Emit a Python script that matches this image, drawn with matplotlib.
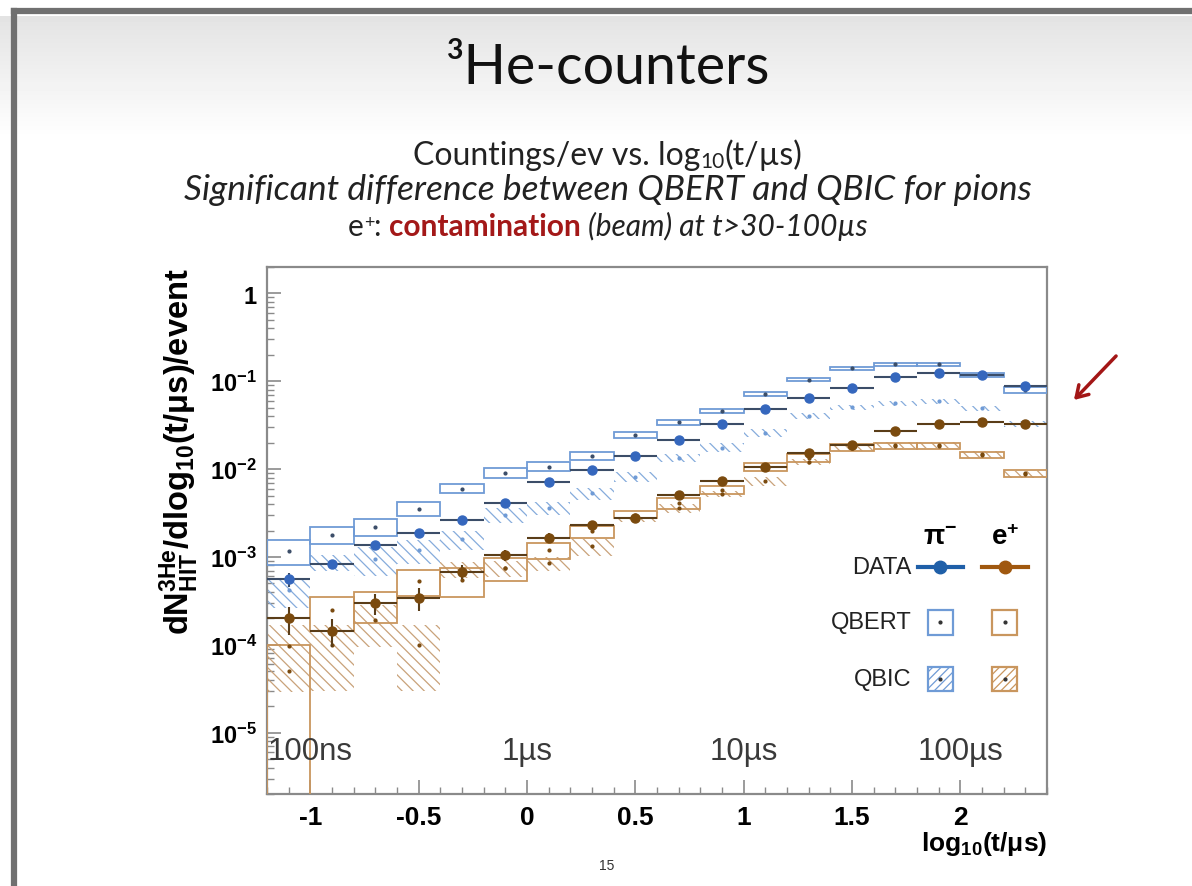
import numpy as np
import matplotlib
matplotlib.use("Agg")
import matplotlib.pyplot as plt
from matplotlib.patches import Rectangle, FancyArrowPatch
from matplotlib.lines import Line2D
from matplotlib.transforms import IdentityTransform
from matplotlib.ticker import FixedLocator, MultipleLocator, LogLocator, NullFormatter

# bins in log10(t/us), width 0.2
bin_centers = [-1.1, -0.9, -0.7, -0.5, -0.3, -0.1, 0.1, 0.3, 0.5,
               0.7, 0.9, 1.1, 1.3, 1.5, 1.7, 1.9, 2.1, 2.3]
bin_width = 0.2

# DATA
data_pi = [5.6e-4, 8.3e-4, 1.37e-3, 1.87e-3, 2.6e-3, 4.1e-3, 7.2e-3, 9.7e-3, 1.4e-2,
           2.14e-2, 3.3e-2, 4.8e-2, 6.4e-2, 8.4e-2, 0.113, 0.124, 0.118, 0.089]
data_pi_err = [1.0e-4, 0.8e-4, 1.0e-4, 1.2e-4, 1.5e-4, 2e-4, 3e-4, 4e-4, 5e-4,
               7e-4, 1e-3, 1.3e-3, 1.6e-3, 2e-3, 2.5e-3, 2.5e-3, 2.5e-3, 2.2e-3]
data_e = [2.0e-4, 1.44e-4, 2.96e-4, 3.4e-4, 6.8e-4, 1.04e-3, 1.66e-3, 2.33e-3, 2.78e-3,
          5.1e-3, 7.3e-3, 1.06e-2, 1.52e-2, 1.9e-2, 2.73e-2, 3.3e-2, 3.4e-2, 3.3e-2]
data_e_err = [7e-5, 5e-5, 8e-5, 1e-4, 1.2e-4, 1.5e-4, 2e-4, 2.5e-4, 2.8e-4,
              4e-4, 5e-4, 7e-4, 9e-4, 1e-3, 1.2e-3, 1.3e-3, 1.3e-3, 1.3e-3]

# QBERT simulation
qbert_pi = [1.18e-3, 1.8e-3, 2.2e-3, 3.56e-3, 5.98e-3, 9.1e-3, 1.07e-2, 1.41e-2, 2.45e-2,
            3.4e-2, 4.6e-2, 7.2e-2, 0.1047, 0.141, 0.157, 0.157, 0.118, 0.080]
qbert_pi_err = [3.7e-4, 4e-4, 4.7e-4, 6.5e-4, 7e-4, 1.2e-3, 1.2e-3, 1.5e-3, 1.8e-3,
                2.2e-3, 2.6e-3, 3.5e-3, 5e-3, 6e-3, 6e-3, 6e-3, 5e-3, 6e-3]
qbert_e = [5.0e-5, 2.49e-4, 2.9e-4, 5.35e-4, 5.5e-4, 7.5e-4, 1.19e-3, 1.96e-3, 3.04e-3,
           4.14e-3, 5.8e-3, 1.06e-2, 1.35e-2, 1.76e-2, 1.84e-2, 1.84e-2, 1.45e-2, 8.95e-3]
qbert_e_err = [5.0e-5, 1.05e-4, 1.14e-4, 1.8e-4, 2e-4, 2.2e-4, 2.5e-4, 3e-4, 3e-4,
               6e-4, 6e-4, 1.2e-3, 1.5e-3, 1.5e-3, 1.5e-3, 1.5e-3, 1.2e-3, 8e-4]

# QBIC simulation
qbic_pi = [4.2e-4, 8.7e-4, 9.5e-4, 1.19e-3, 1.6e-3, 3.04e-3, 3.6e-3, 5.3e-3, 8.2e-3,
           1.35e-2, 1.76e-2, 2.6e-2, 4.0e-2, 5.05e-2, 5.6e-2, 5.9e-2, 4.9e-2, 3.26e-2]
qbic_pi_err = [1.6e-4, 1.8e-4, 3.5e-4, 3.5e-4, 4e-4, 6e-4, 6e-4, 8e-4, 1e-3,
               1.5e-3, 2e-3, 2.5e-3, 3e-3, 3.5e-3, 4e-3, 4e-3, 3.5e-3, 2.5e-3]
qbic_e = [9.8e-5, 1.0e-4, 1.9e-4, 1.0e-4, 7.3e-4, 7.5e-4, 8.5e-4, 1.32e-3, 2.67e-3,
          3.6e-3, 5.2e-3, 7.3e-3, 1.2e-2, 1.75e-2, 1.88e-2, 1.88e-2, 1.47e-2, 8.8e-3]
qbic_e_err = [6.9e-5, 7e-5, 9.5e-5, 7e-5, 1.5e-4, 1.6e-4, 1.5e-4, 3e-4, 2e-4,
              4e-4, 4e-4, 8e-4, 1e-3, 1.5e-3, 1.5e-3, 1.5e-3, 1.2e-3, 8e-4]

x_ticks = [-1, -0.5, 0, 0.5, 1, 1.5, 2]
x_tick_labels = ["-1", "-0.5", "0", "0.5", "1", "1.5", "2"]
y_ticks = [1, 1e-1, 1e-2, 1e-3, 1e-4, 1e-5]
y_tick_labels = [r"$\mathbf{1}$", r"$\mathbf{10^{-1}}$", r"$\mathbf{10^{-2}}$",
                 r"$\mathbf{10^{-3}}$", r"$\mathbf{10^{-4}}$", r"$\mathbf{10^{-5}}$"]
time_labels = ["100ns", "1µs", "10µs", "100µs"]
time_pos = [-1, 0, 1, 2]

BLUE = "#3567bd"
BLUE_BOX = "#6f9bd6"
BLUE_HATCH = "#86acdc"
BLUE_ERR = "#3b4d68"
BROWN = "#7a4a0e"
BROWN_BOX = "#c9965e"
BROWN_HATCH = "#c9a27a"
BROWN_ERR = "#5a3d18"

plt.rcParams["mathtext.fontset"] = "custom"
plt.rcParams["mathtext.rm"] = "Liberation Sans"
plt.rcParams["mathtext.bf"] = "Liberation Sans:bold"
plt.rcParams["mathtext.it"] = "Liberation Sans:italic"
plt.rcParams["hatch.linewidth"] = 0.9

W, H = 1192, 887
fig = plt.figure(figsize=(W / 100, H / 100), dpi=100)

# slide background: light gray gradient at the top + frame (top and left only)
bg = fig.add_axes([0, 0, 1, 1], zorder=-10)
rows = np.ones((H, 1))
rows[17:140, 0] = np.linspace(0.89, 1.0, 123)
bg.imshow(rows, extent=[0, 1, 0, 1], aspect="auto", cmap="gray", vmin=0, vmax=1)
bg.axis("off")
fig.lines.append(Line2D([14 / W, 1], [1 - 12 / H] * 2, transform=fig.transFigure,
                        color="#707070", linewidth=4.5))
fig.lines.append(Line2D([14 / W] * 2, [0, 1 - 12 / H], transform=fig.transFigure,
                        color="#707070", linewidth=4.5))

# title and subtitle
fig.text(0.51, 1 - 68 / H, "³He-counters", ha="center", va="center",
         fontsize=40, family="Lato", color="#111111")


def draw_line(y_px, pieces):
    r = fig.canvas.get_renderer()
    items = []
    for s, dy, kw in pieces:
        t = fig.text(0, 0, s, transform=IdentityTransform(), va="baseline", **kw)
        items.append((t, dy, t.get_window_extent(r).width))
    x = 608 - sum(w for _, _, w in items) / 2
    for t, dy, w in items:
        t.set_position((x, H - y_px + dy))
        x += w


base = dict(family="Lato", color="#222222", fontsize=23)
draw_line(165, [("Countings/ev vs. log", 0, base),
                ("10", -3, dict(base, fontsize=15)),
                ("(t/µs)", 0, base)])
draw_line(200, [("Significant difference between QBERT and QBIC for pions", 0,
                 dict(base, style="italic", fontsize=25.5))])
draw_line(236, [("e", 0, dict(base, fontsize=21.5)),
                ("+", 8, dict(base, fontsize=13)),
                (": ", 0, dict(base, fontsize=21.5)),
                ("contamination", 0, dict(base, color="#a31818", weight="bold", fontsize=21.5)),
                (" (beam) at t>30-100µs", 0, dict(base, style="italic", fontsize=21.5))])

fig.text(607 / W, 1 - 866 / H, "15", ha="center", va="center", fontsize=10,
         family="Liberation Sans", color="#333333")

fig.patches.append(FancyArrowPatch(
    (1118 / W, 1 - 355 / H), (1072 / W, 1 - 403 / H), transform=fig.transFigure,
    arrowstyle="->,head_length=8,head_width=5", color="#a31616", linewidth=2.5))

# main plot
ax = fig.add_axes([267 / W, 92 / H, 780 / W, 527 / H])
ax.set_yscale("log")
ax.set_xlim(-1.2, 2.4)
ax.set_ylim(2e-6, 2)


def boxes(vals, errs, **kw):
    v = np.array(vals)
    e = np.array(errs)
    lo = np.maximum(v - e, 1e-8)
    ax.bar(bin_centers, v + e - lo, bottom=lo, width=bin_width, **kw)


boxes(qbic_pi, qbic_pi_err, fill=False, edgecolor=BLUE_HATCH, linewidth=0,
      hatch="\\\\\\", zorder=2)
boxes(qbic_e, qbic_e_err, fill=False, edgecolor=BROWN_HATCH, linewidth=0,
      hatch="\\\\\\", zorder=2)
boxes(qbert_pi, qbert_pi_err, fill=False, edgecolor=BLUE_BOX, linewidth=1.3, zorder=3)
boxes(qbert_e, qbert_e_err, fill=False, edgecolor=BROWN_BOX, linewidth=1.3, zorder=3)
for vals, c in [(qbic_pi, BLUE_BOX), (qbic_e, BROWN), (qbert_pi, BLUE_ERR), (qbert_e, BROWN)]:
    ax.plot(bin_centers, vals, "o", ms=2, color=c, zorder=3)

ax.errorbar(bin_centers, data_pi, yerr=data_pi_err, xerr=bin_width / 2, fmt="o",
            ms=6.5, color=BLUE, ecolor=BLUE_ERR, elinewidth=1.5, capsize=0, zorder=5)
ax.errorbar(bin_centers, data_e, yerr=data_e_err, xerr=bin_width / 2, fmt="o",
            ms=6.5, color=BROWN, ecolor=BROWN_ERR, elinewidth=1.5, capsize=0, zorder=5)

for lab, xp in zip(time_labels, time_pos):
    ax.text(xp, 6.2e-6, lab, ha="center", va="center", fontsize=22.5,
            family="Liberation Sans", color="#3a3a3a")

# axes styling (ROOT like)
ax.xaxis.set_major_locator(FixedLocator(x_ticks))
ax.set_xticklabels(x_tick_labels)
ax.xaxis.set_minor_locator(MultipleLocator(0.1))
ax.yaxis.set_major_locator(FixedLocator(y_ticks))
ax.set_yticklabels(y_tick_labels)
ax.yaxis.set_minor_locator(LogLocator(base=10, subs=np.arange(2, 10)))
ax.yaxis.set_minor_formatter(NullFormatter())
ax.tick_params(which="both", direction="in", color="#8a8a8a", top=False, right=False)
ax.tick_params(which="major", length=10, width=1.2, labelsize=17, pad=7)
ax.tick_params(which="minor", length=5, width=1)
ax.tick_params(axis="x", which="major", labelsize=19, pad=8)
for lab in ax.get_xticklabels():
    lab.set_fontweight("bold")
    lab.set_family("Liberation Sans")
for sp in ax.spines.values():
    sp.set_color("#8a8a8a")
    sp.set_linewidth(1.6)

ax.set_xlabel(r"$\mathbf{log_{10}(t/\mu s)}$", loc="right", fontsize=19, labelpad=0)
ax.set_ylabel(r"$\mathbf{dN^{3He}_{HIT}/dlog_{10}(t/\mu s)/event}$", loc="top", fontsize=23.5)
ax.yaxis.set_label_coords(-0.085, 1.0)

# legend drawn by hand
cols = [0.863, 0.946]
rows_y = [0.431, 0.326, 0.218]
ax.text(cols[0], 0.49, r"$\mathbf{\pi^{-}}$", ha="center", va="center",
        transform=ax.transAxes, fontsize=20)
ax.text(cols[1], 0.49, r"$\mathbf{e^{+}}$", ha="center", va="center",
        transform=ax.transAxes, fontsize=20)
for lab, yy in zip(["DATA", "QBERT", "QBIC"], rows_y):
    ax.text(0.826, yy, lab, ha="right", va="center", transform=ax.transAxes,
            fontsize=17, family="Liberation Sans", color="#222222")
bw, bh = 0.032, 0.047
for xc, dc, bc in zip(cols, ["#1f5fa8", "#a0580f"], [BLUE_BOX, BROWN_BOX]):
    ax.plot([xc - 0.029, xc + 0.029], [rows_y[0]] * 2, color=dc, lw=3,
            transform=ax.transAxes, zorder=6)
    ax.plot([xc], [rows_y[0]], "o", ms=9, color=dc, transform=ax.transAxes, zorder=6)
    ax.add_patch(Rectangle((xc - bw / 2, rows_y[1] - bh / 2), bw, bh, fill=False,
                           edgecolor=bc, linewidth=1.6, transform=ax.transAxes))
    ax.add_patch(Rectangle((xc - bw / 2, rows_y[2] - bh / 2), bw, bh, fill=False,
                           edgecolor=bc, linewidth=1.6, hatch="////",
                           transform=ax.transAxes))
    for yy in rows_y[1:]:
        ax.plot([xc], [yy], "o", ms=2, color="#333333", transform=ax.transAxes)

fig.savefig("out.png", dpi=100)
